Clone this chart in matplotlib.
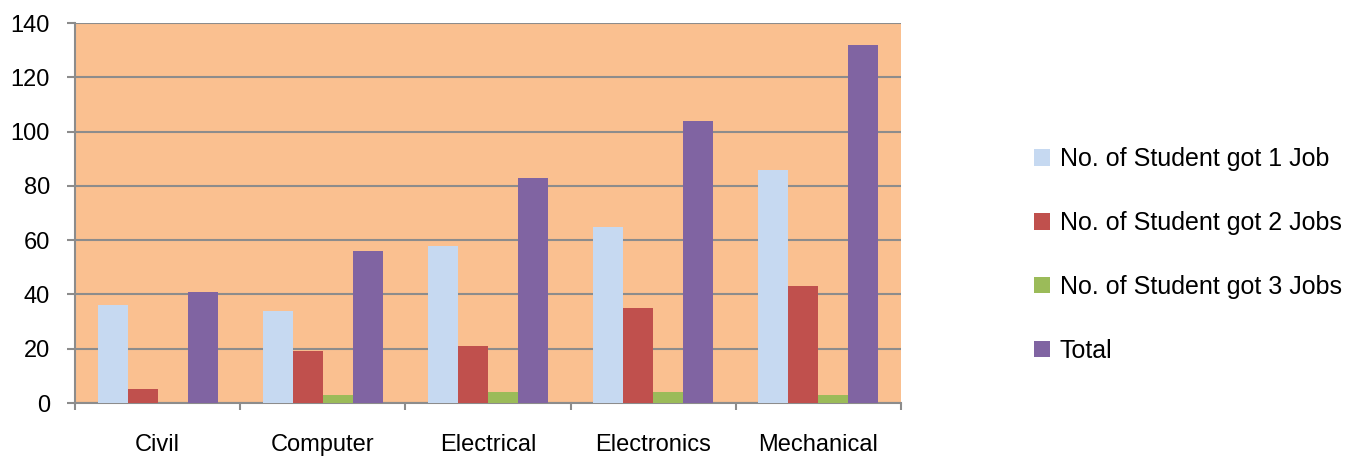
import matplotlib.pyplot as plt
import numpy as np

plt.rcParams['font.family'] = ['Liberation Sans', 'DejaVu Sans']

branches = ['Civil', 'Computer', 'Electrical', 'Electronics', 'Mechanical']
one_job = [36, 34, 58, 65, 86]
two_jobs = [5, 19, 21, 35, 43]
three_jobs = [0, 3, 4, 4, 3]
total = [41, 56, 83, 104, 132]

series = [
    ('No. of Student got 1 Job', one_job, '#C6D9F1'),
    ('No. of Student got 2 Jobs', two_jobs, '#C0504D'),
    ('No. of Student got 3 Jobs', three_jobs, '#9BBB59'),
    ('Total', total, '#8064A2'),
]

fig = plt.figure(figsize=(13.62, 4.59), dpi=100)
ax = fig.add_axes([75 / 1362, 56 / 459, 826 / 1362, 380 / 459])
ax.set_facecolor('#FAC090')

x = np.arange(len(branches))
w = 0.1816
for i, (name, vals, col) in enumerate(series):
    ax.bar(x + (i - 1.5) * w, vals, w, color=col, label=name, zorder=3)

ax.set_xlim(-0.5, len(branches) - 0.5)
ax.set_ylim(0, 140)
ax.set_yticks(range(0, 141, 20))
ax.yaxis.grid(True, color='#8C8C8C', linewidth=1.5, zorder=1)
ax.set_axisbelow(True)

# category labels sit between the boundary ticks
ax.set_xticks(np.arange(-0.5, len(branches)), minor=False)
ax.set_xticklabels([])
ax.set_xticks(x, minor=True)
ax.set_xticklabels(branches, minor=True, fontsize=17)
ax.tick_params(axis='x', which='minor', length=0, pad=22)
ax.tick_params(axis='x', which='major', length=5, width=1.5, color='#8C8C8C')
ax.tick_params(axis='y', length=6, width=1.5, color='#8C8C8C', labelsize=17, pad=12)

for side in ['top', 'right']:
    ax.spines[side].set_visible(False)
for side in ['left', 'bottom']:
    ax.spines[side].set_color('#8C8C8C')
    ax.spines[side].set_linewidth(1.5)

fig.legend(loc='center left', bbox_to_anchor=(1011 / 1362, 204 / 459),
           frameon=False, fontsize=18, handlelength=0.64, handleheight=0.64,
           handletextpad=0.4, labelspacing=1.59)

fig.savefig('out.png', dpi=100)
